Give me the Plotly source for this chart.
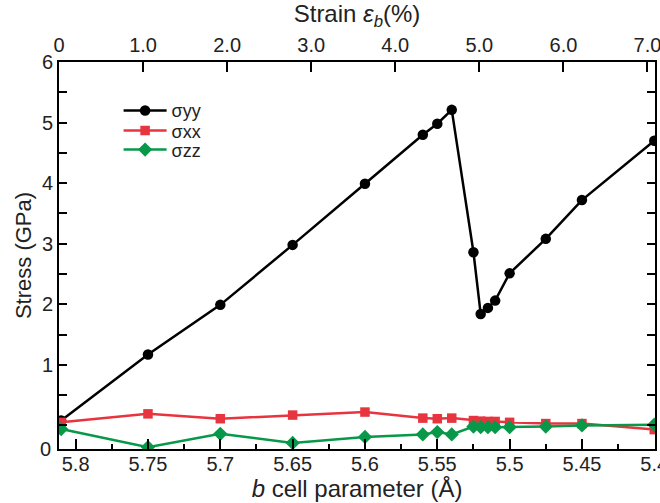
import plotly.graph_objects as go

# ---- data ----
b_cell = [5.81, 5.75, 5.70, 5.65, 5.60, 5.56, 5.55, 5.54, 5.525, 5.52, 5.515, 5.51, 5.50, 5.475, 5.45, 5.40]
sigma_yy = [0.08, 1.17, 1.99, 2.98, 3.99, 4.80, 4.98, 5.21, 2.86, 1.84, 1.94, 2.06, 2.51, 3.08, 3.72, 4.70]
sigma_xx = [0.05, 0.19, 0.11, 0.17, 0.22, 0.12, 0.11, 0.12, 0.08, 0.07, 0.065, 0.065, 0.05, 0.03, 0.03, -0.07]
sigma_zz = [-0.06, -0.36, -0.14, -0.29, -0.19, -0.15, -0.11, -0.15, -0.02, -0.03, -0.03, -0.03, -0.03, -0.02, 0.0, 0.01]

series_names = ["σyy", "σxx", "σzz"]

x_ticks = [5.8, 5.75, 5.7, 5.65, 5.6, 5.55, 5.5, 5.45, 5.4]
x_ticklabels = ["5.8", "5.75", "5.7", "5.65", "5.6", "5.55", "5.5", "5.45", "5.4"]
strain_ticks = [0, 1, 2, 3, 4, 5, 6, 7]
strain_ticklabels = ["0", "1.0", "2.0", "3.0", "4.0", "5.0", "6.0", "7.0"]
y_labels = ["1", "2", "3", "4", "5", "6"]

b0 = 5.8115          # unstrained b (strain 0)
x_range = [5.8115, 5.3995]
y_range = [-0.39, 6.0]

FONT = "Liberation Sans, Arial, Helvetica, sans-serif"
BLACK = "#000000"
RED = "#e8343f"
GREEN = "#08984a"

strain = [(b0 - b) / b0 * 100 for b in b_cell]
top_range = [(b0 - x_range[0]) / b0 * 100, (b0 - x_range[1]) / b0 * 100]

fig = go.Figure()
fig.add_trace(go.Scatter(x=b_cell, y=sigma_yy, mode="lines+markers", name=series_names[0],
                         legend="legend",
                         line=dict(color=BLACK, width=2.5),
                         marker=dict(symbol="circle", size=10.5, color=BLACK)))
fig.add_trace(go.Scatter(x=b_cell, y=sigma_xx, mode="lines+markers", name=series_names[1],
                         legend="legend2",
                         line=dict(color=RED, width=2.5),
                         marker=dict(symbol="square", size=9.5, color=RED)))
fig.add_trace(go.Scatter(x=b_cell, y=sigma_zz, mode="lines+markers", name=series_names[2],
                         legend="legend3",
                         line=dict(color=GREEN, width=2.5),
                         marker=dict(symbol="diamond", size=11, color=GREEN)))
# invisible trace carrying the strain (top) axis
fig.add_trace(go.Scatter(x=strain, y=sigma_yy, xaxis="x2", mode="markers",
                         marker=dict(opacity=0), showlegend=False, hoverinfo="skip"))

y_tickvals = [v * 0.5 for v in range(0, 13)]
y_ticktext = [""] * 13
for i, lab in enumerate(y_labels):
    y_ticktext[2 * (i + 1)] = lab

axis_common = dict(showline=True, linecolor=BLACK, linewidth=2, showgrid=False,
                   zeroline=False, ticks="inside", tickcolor=BLACK, tickwidth=2,
                   ticklabeloverflow="allow",
                   tickfont=dict(family=FONT, size=20, color="#222"))


def legend_box(y_center):
    return dict(x=0.1, y=y_center, xanchor="left", yanchor="middle",
                bgcolor="rgba(0,0,0,0)", font=dict(family=FONT, size=18, color="#222"),
                itemwidth=43)


fig.update_layout(
    width=660, height=503,
    margin=dict(l=59, r=5, t=62, b=54, autoexpand=False),
    paper_bgcolor="white", plot_bgcolor="white",
    font=dict(family=FONT, color="#222"),
    showlegend=True,
    legend=legend_box(0.874),
    legend2=legend_box(0.822),
    legend3=legend_box(0.773),
    xaxis=dict(axis_common, range=x_range, tickmode="array", tickvals=x_ticks,
               ticktext=x_ticklabels, ticklen=10, ticklabelstandoff=-4,
               minor=dict(dtick=0.025, ticks="inside", ticklen=5, tickwidth=2, tickcolor=BLACK),
               title=dict(text="<i>b</i> cell parameter (Å)", font=dict(family=FONT, size=24, color="#222"),
                          standoff=0)),
    xaxis2=dict(axis_common, overlaying="x", side="top", anchor="y", range=top_range,
                tickmode="array", tickvals=strain_ticks, ticktext=strain_ticklabels, ticklen=10,
                title=dict(text="Strain <i>ε</i><sub><i>b</i></sub>(%)",
                           font=dict(family=FONT, size=24, color="#222"), standoff=8)),
    yaxis=dict(axis_common, range=y_range, mirror="ticks", tickmode="array",
               tickvals=y_tickvals, ticktext=y_ticktext, ticklen=8,
               title=dict(text="Stress (GPa)", font=dict(family=FONT, size=22, color="#222"),
                          standoff=4)),
)

fig.add_annotation(text="0", xref="paper", yref="y", x=0, y=y_range[0],
                   xanchor="right", yanchor="middle", xshift=-6, showarrow=False,
                   font=dict(family=FONT, size=20, color="#222"))

fig.write_html("out.html")
